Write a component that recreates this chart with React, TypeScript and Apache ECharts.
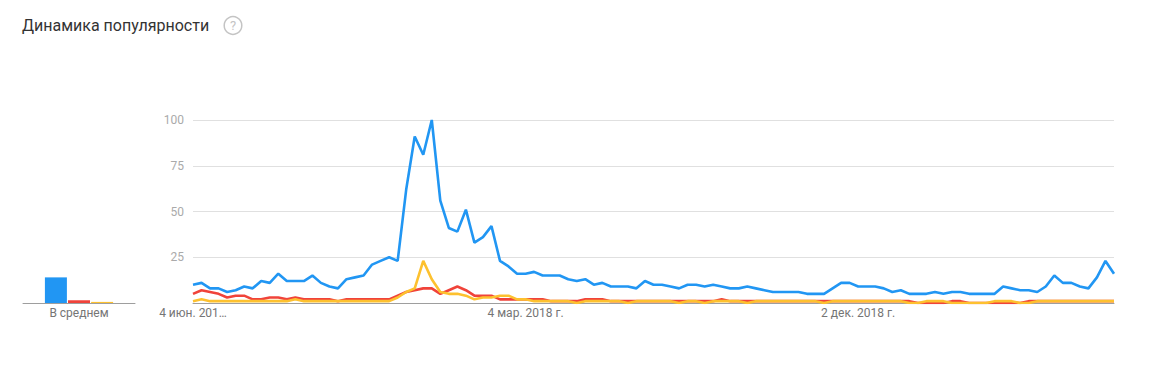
import React, { useEffect, useRef } from "react";
import * as echarts from "echarts";

const startDate = new Date(2017, 5, 4);
const weekCount = 109;
const weeks: string[] = Array.from({ length: weekCount }, (_, i) => {
  const d = new Date(startDate.getTime() + i * 7 * 86400000);
  return `${d.getFullYear()}-${d.getMonth() + 1}-${d.getDate()}`;
});

const xTickIndices = [0, 39, 78];
const xTickLabels = ["4 июн. 201…", "4 мар. 2018 г.", "2 дек. 2018 г."];

const seriesColors = ["#2196f3", "#f0433a", "#fdc12f"];

const avgCategory = ["В среднем"];
const avgValues = [14, 1.5, 0.6];

const blue = [
  10, 11, 8, 8, 6, 7, 9, 8, 12, 11,
  16, 12, 12, 12, 15, 11, 9, 8, 13, 14,
  15, 21, 23, 25, 23, 62, 91, 81, 100, 56,
  41, 39, 51, 33, 36, 42, 23, 20, 16, 16,
  17, 15, 15, 15, 13, 12, 13, 10, 11, 9,
  9, 9, 8, 12, 10, 10, 9, 8, 10, 10,
  9, 10, 9, 8, 8, 9, 8, 7, 6, 6,
  6, 6, 5, 5, 5, 8, 11, 11, 9, 9,
  9, 8, 6, 7, 5, 5, 5, 6, 5, 6,
  6, 5, 5, 5, 5, 9, 8, 7, 7, 6,
  9, 15, 11, 11, 9, 8, 14, 23, 16,
];

const red = [
  5, 7, 6, 5, 3, 4, 4, 2, 2, 3,
  3, 2, 3, 2, 2, 2, 2, 1, 2, 2,
  2, 2, 2, 2, 4, 6, 7, 8, 8, 5,
  7, 9, 7, 4, 4, 4, 2, 2, 2, 2,
  2, 2, 1, 1, 1, 1, 2, 2, 2, 1,
  1, 1, 1, 1, 1, 1, 1, 1, 1, 1,
  1, 1, 2, 1, 1, 1, 1, 1, 1, 1,
  1, 1, 1, 1, 1, 1, 1, 1, 1, 1,
  1, 1, 1, 1, 1, 0, 0, 0, 0, 1,
  1, 0, 0, 0, 0, 0, 0, 0, 1, 1,
  1, 1, 1, 1, 1, 1, 1, 1, 1,
];

const yellow = [
  1, 2, 1, 1, 1, 1, 1, 1, 1, 1,
  1, 1, 2, 1, 1, 1, 1, 1, 1, 1,
  1, 1, 1, 1, 3, 6, 8, 23, 13, 6,
  5, 5, 4, 2, 3, 3, 4, 4, 2, 2,
  1, 1, 1, 1, 1, 0, 1, 1, 1, 1,
  1, 0, 1, 1, 1, 1, 1, 0, 1, 1,
  0, 1, 1, 1, 1, 0, 1, 1, 1, 1,
  1, 1, 1, 1, 0, 1, 1, 1, 1, 1,
  1, 1, 1, 1, 0, 0, 1, 1, 1, 0,
  0, 0, 0, 0, 1, 1, 1, 0, 0, 1,
  1, 1, 1, 1, 1, 1, 1, 1, 1,
];

const lineSeries = [blue, red, yellow];

export default function App() {
  const ref = useRef<HTMLDivElement>(null);
  useEffect(() => {
    document.body.style.margin = "0";
    const chart = echarts.init(ref.current!, null, { renderer: "svg" });
    const font = "Roboto, 'Noto Sans', sans-serif";
    chart.setOption({
      animation: false,
      backgroundColor: "#fff",
      textStyle: { fontFamily: font },
      title: {
        text: "Динамика популярности",
        left: 22,
        top: 17,
        padding: 0,
        textStyle: { fontSize: 16, fontWeight: "normal", color: "#333", fontFamily: font },
      },
      graphic: [
        {
          type: "circle",
          shape: { cx: 233, cy: 25.5, r: 8.8 },
          style: { fill: "none", stroke: "#c4c4c4", lineWidth: 1.5 },
        },
        {
          type: "text",
          x: 233,
          y: 25.5,
          style: {
            text: "?",
            fill: "#c4c4c4",
            font: `13px ${font}`,
            textAlign: "center",
            textVerticalAlign: "middle",
          },
        },
      ],
      grid: [
        { left: 23, width: 112, top: 120, bottom: 88 },
        { left: 193, right: 36, top: 120, bottom: 88 },
      ],
      xAxis: [
        {
          gridIndex: 0,
          type: "category",
          data: avgCategory,
          axisLine: { lineStyle: { color: "#9e9e9e", width: 1 } },
          axisTick: { show: false },
          axisLabel: { color: "#757575", fontSize: 12, margin: 4, fontFamily: font },
        },
        {
          gridIndex: 1,
          type: "category",
          data: weeks,
          boundaryGap: false,
          axisLine: { lineStyle: { color: "#9e9e9e", width: 1 } },
          axisTick: { show: false },
          axisLabel: {
            color: "#757575",
            fontSize: 12,
            margin: 4,
            fontFamily: font,
            showMinLabel: true,
            interval: (i: number) => xTickIndices.includes(i),
            formatter: (_v: string, i: number) => {
              const k = xTickIndices.indexOf(i);
              return k >= 0 ? xTickLabels[k] : "";
            },
          },
        },
      ],
      yAxis: [
        { gridIndex: 0, type: "value", min: 0, max: 100, show: false },
        {
          gridIndex: 1,
          type: "value",
          min: 0,
          max: 100,
          interval: 25,
          axisLine: { show: false },
          axisTick: { show: false },
          splitLine: { lineStyle: { color: "#e0e0e0", width: 1 } },
          axisLabel: {
            color: "#aaaaaa",
            fontSize: 12,
            margin: 9,
            fontFamily: font,
            formatter: (v: number) => (v === 0 ? "" : String(v)),
          },
        },
      ],
      series: [
        ...avgValues.map((v, k) => ({
          type: "bar",
          xAxisIndex: 0,
          yAxisIndex: 0,
          data: [v],
          barWidth: 22,
          barGap: "5%",
          itemStyle: { color: seriesColors[k] },
          silent: true,
        })),
        ...lineSeries.map((d, k) => ({
          type: "line",
          xAxisIndex: 1,
          yAxisIndex: 1,
          data: d,
          symbol: "none",
          lineStyle: { color: seriesColors[k], width: 2.6 },
          itemStyle: { color: seriesColors[k] },
          silent: true,
        })),
      ],
    });
    return () => chart.dispose();
  }, []);
  return <div ref={ref} style={{ width: 1150, height: 391 }} />;
}
